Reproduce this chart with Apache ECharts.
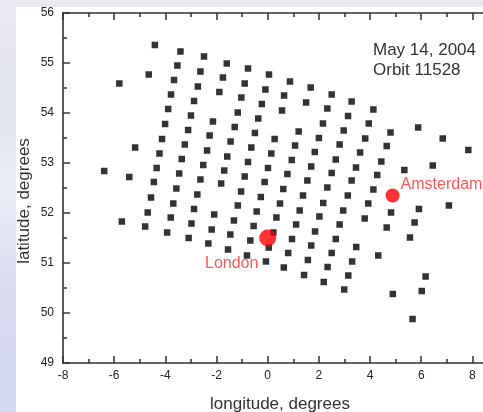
<!DOCTYPE html>
<html>
<head>
<meta charset="utf-8">
<script src="https://cdn.jsdelivr.net/npm/echarts@6/dist/echarts.min.js"></script>
<style>
  html, body { margin: 0; padding: 0; }
  body {
    width: 483px; height: 412px; overflow: hidden; position: relative;
    background: linear-gradient(180deg, #e9eaf1 0%, #e1e3ef 30%, #eceef8 45%, #d9dcf1 70%, #d3d7f0 100%);
  }
  #paper { position: absolute; left: 16px; top: 7px; width: 467px; height: 405px; background: #fff; }
  #chart { position: absolute; left: 0; top: 0; width: 483px; height: 412px; }
</style>
</head>
<body>
<div id="paper"></div>
<div id="chart"></div>
<script>
// pixel footprints
var lonVals = [
  -4.41, -3.41, -2.49, -1.60, -0.77, 0.05, -3.53, -4.65, -5.80, -2.63,
  -1.75, -0.90, -0.09, 0.64, -3.66, -2.73, -1.89, -1.03, -0.23, 0.56,
  -3.78, -2.88, -1.17, -0.37, -3.89, -3.00, -2.14, -1.29, -0.50, 0.27,
  -4.01, -3.11, -2.27, -1.45, -0.64, 0.14, -4.13, -3.24, -2.37, -1.58,
  -0.77, 0.01, -5.18, -4.23, -3.36, -2.52, -1.70, -0.90, -0.12, -4.34,
  -3.46, -2.63, -6.39, -5.41, -4.45, -1.82, -3.57, -1.04, 0.61, -4.56,
  -3.69, -2.75, -1.17, -0.27, 0.48, -4.69, -3.79, -2.88, -2.09, -0.43,
  0.34, -5.70, -4.79, -3.93, -2.98, -2.19, -1.32, -0.55, -3.09, -2.32,
  -1.46, -0.68, 0.22, -1.55, -0.81, 0.04, -0.07, 0.63, 0.87, 1.68,
  2.50, 3.28, 4.13, 1.50, 2.33, 3.14, 3.95, 4.80, 2.16, 2.97,
  3.81, 4.65, 5.88, 6.84, 7.84, 1.21, 2.00, 2.81, 3.61, 4.44,
  5.34, 6.45, 1.07, 1.84, 2.66, 3.45, 4.28, 0.94, 1.70, 2.50,
  3.28, 0.77, 1.55, 2.33, 4.13, 1.38, 2.17, 3.13, 3.93, 1.25,
  2.02, 2.95, 3.79, 4.82, 5.91, 7.08, 1.11, 1.85, 2.81, 4.65,
  5.74, 0.95, 1.70, 2.66, 3.46, 5.56, 4.32, 0.80, 1.57, 2.50,
  3.30, 1.42, 2.34, 3.15, 2.19, 2.99, 6.17, 6.02, 4.89, 5.66
];
var latVals = [
  55.36, 55.23, 55.13, 54.99, 54.89, 54.77, 54.95, 54.77, 54.59, 54.83,
  54.71, 54.59, 54.47, 54.35, 54.66, 54.53, 54.42, 54.31, 54.18, 54.05,
  54.37, 54.24, 54.01, 53.89, 54.08, 53.95, 53.83, 53.72, 53.60, 53.48,
  53.78, 53.66, 53.55, 53.43, 53.31, 53.19, 53.48, 53.37, 53.25, 53.13,
  53.02, 52.90, 53.31, 53.19, 53.08, 52.96, 52.85, 52.73, 52.62, 52.90,
  52.79, 52.67, 52.84, 52.72, 52.62, 52.59, 52.49, 52.43, 52.48, 52.31,
  52.19, 52.37, 52.15, 52.32, 52.19, 52.01, 51.91, 52.08, 51.97, 52.03,
  51.91, 51.83, 51.73, 51.61, 51.79, 51.67, 51.85, 51.74, 51.50, 51.39,
  51.57, 51.45, 51.61, 51.27, 51.15, 51.31, 51.03, 50.91, 54.63, 54.51,
  54.37, 54.23, 54.07, 54.21, 54.09, 53.94, 53.79, 53.61, 53.79, 53.65,
  53.49, 53.34, 53.71, 53.49, 53.26, 53.63, 53.50, 53.37, 53.21, 53.03,
  52.86, 52.95, 53.35, 53.22, 53.07, 52.91, 52.76, 53.06, 52.93, 52.80,
  52.65, 52.78, 52.65, 52.51, 52.47, 52.35, 52.20, 52.35, 52.19, 52.05,
  51.93, 52.05, 51.89, 52.01, 52.08, 52.15, 51.77, 51.63, 51.77, 51.71,
  51.81, 51.48, 51.35, 51.48, 51.32, 51.51, 51.15, 51.20, 51.06, 51.20,
  51.03, 50.76, 50.92, 50.75, 50.62, 50.47, 50.73, 50.44, 50.38, 49.88
];

var cityNames = ['London', 'Amsterdam'];
var cityLon = [0.0, 4.88];
var cityLat = [51.5, 52.35];

var pixels = lonVals.map(function (x, i) { return [x, latVals[i]]; });

var font = 'Liberation Sans, Arial, Helvetica, sans-serif';
var lineCol = '#333';
function frame() { return { show: true, onZero: false, lineStyle: { color: lineCol, width: 1.6 } }; }
function majorTick() { return { show: true, inside: true, length: 7, lineStyle: { color: lineCol, width: 1.5 } }; }
function smallTick() { return { show: true, splitNumber: 2, length: 4, lineStyle: { color: lineCol, width: 1.5 } }; }

var myChart = echarts.init(document.getElementById('chart'));

var opt = {
    animation: false,
    grid: {
        left: 63,
        top: 13,
        width: 435,      // -8 .. 9, right part runs off the page like the original
        height: 350,
        outerBoundsMode: 'none'
    },
    xAxis: [
        {
            type: 'value',
            min: -8,
            max: 9,
            interval: 2,
            axisLine: frame(),
            axisTick: majorTick(),
            minorTick: smallTick(),
            splitLine: { show: false },
            axisLabel: { showMaxLabel: false, margin: 7, color: '#222', fontSize: 12, fontFamily: font }
        },
        {
            type: 'value',
            position: 'top',
            min: -8,
            max: 9,
            interval: 2,
            axisLine: frame(),
            axisTick: majorTick(),
            minorTick: smallTick(),
            splitLine: { show: false },
            axisLabel: { show: false }
        }
    ],
    yAxis: {
        type: 'value',
        min: 49,
        max: 56,
        interval: 1,
        axisLine: frame(),
        axisTick: majorTick(),
        minorTick: smallTick(),
        splitLine: { show: false },
        axisLabel: { margin: 9, color: '#222', fontSize: 12, fontFamily: font }
    },
    graphic: [
        {
            type: 'text',
            left: 373, top: 40,
            style: {
                text: 'May 14, 2004\nOrbit 11528',
                font: '17px ' + font,
                lineHeight: 20,
                fill: '#333'
            }
        },
        {
            type: 'text',
            x: 24, y: 201,
            rotation: Math.PI / 2,
            style: {
                text: 'latitude, degrees',
                font: '17px ' + font,
                fill: '#333',
                align: 'center',
                verticalAlign: 'middle'
            }
        },
        {
            type: 'text',
            x: 280, y: 404,
            style: {
                text: 'longitude, degrees',
                font: '17px ' + font,
                fill: '#333',
                align: 'center',
                verticalAlign: 'middle'
            }
        }
    ],
    series: [
        {
            type: 'scatter',
            symbol: 'rect',
            symbolSize: 6.5,
            itemStyle: { color: '#000' },
            data: pixels
        },
        {
            type: 'scatter',
            symbol: 'circle',
            itemStyle: { color: '#ff0000' },
            data: [
                {
                    name: cityNames[0], value: [cityLon[0], cityLat[0]], symbolSize: 17,
                    label: { show: true, position: 'inside', align: 'center', offset: [-36, 26] }
                },
                {
                    name: cityNames[1], value: [cityLon[1], cityLat[1]], symbolSize: 14,
                    label: { show: true, position: 'inside', align: 'left', offset: [8, -11] }
                }
            ],
            label: {
                formatter: '{b}',
                color: '#ff2a2a',
                fontSize: 16,
                fontFamily: font
            },
            z: 3
        }
    ]
};
myChart.setOption(opt);
</script>
</body>
</html>
